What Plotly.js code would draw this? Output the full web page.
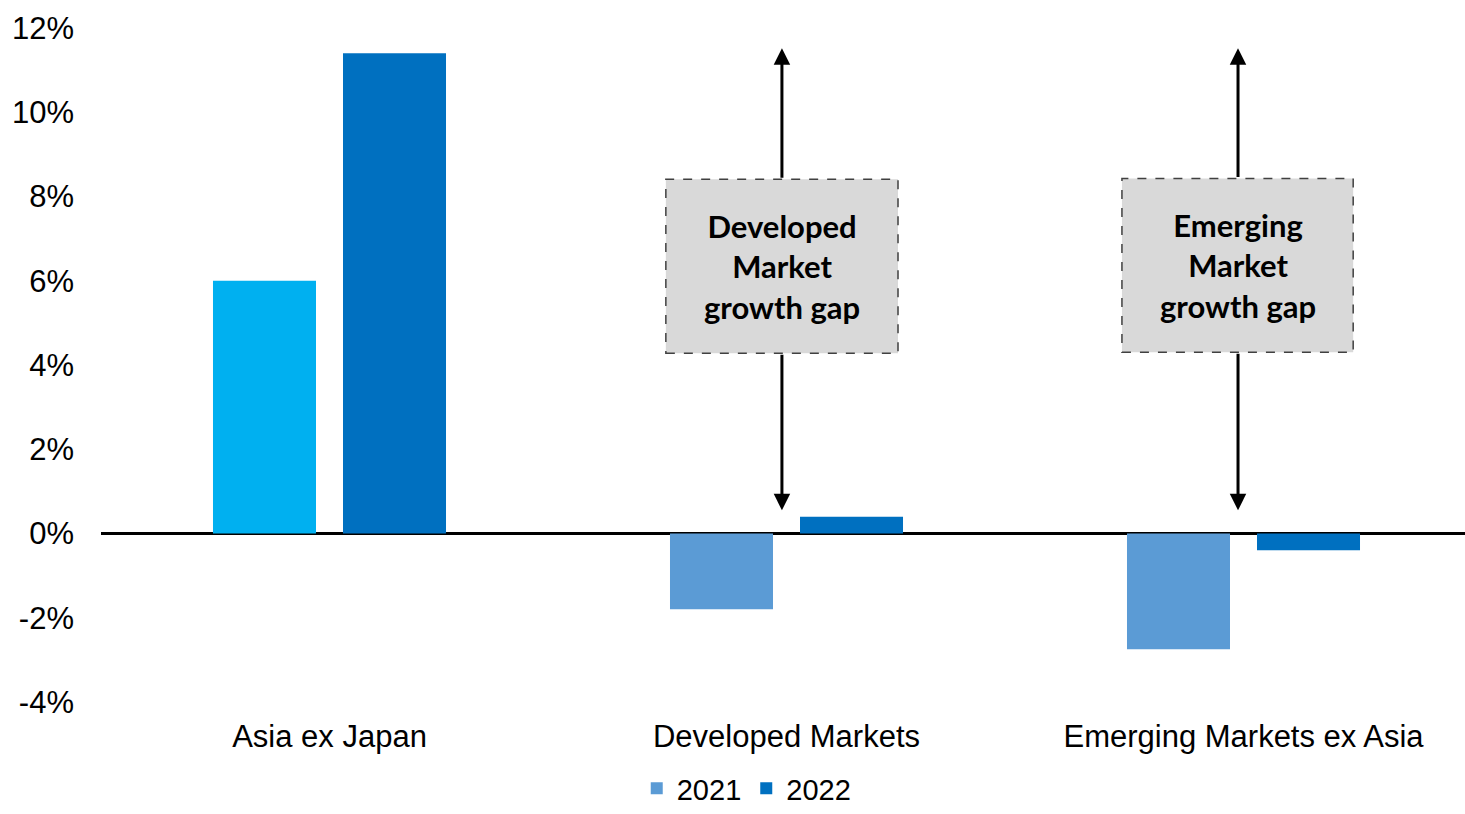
<!DOCTYPE html>
<html>
<head>
<meta charset="utf-8">
<script src="https://cdn.plot.ly/plotly-3.0.1.min.js"></script>
<style>html,body{margin:0;padding:0;overflow:hidden;background:#fff;}#chart{width:1472px;height:814px;}</style>
</head>
<body>
<div id="chart"></div>
<script>
const categories = ["Asia ex Japan", "Developed Markets", "Emerging Markets ex Asia"];
const values2021 = [6.0, -1.8, -2.75];
const values2022 = [11.4, 0.4, -0.4];
const colors2021 = ["#00B0F0", "#5B9BD5", "#5B9BD5"];
const color2021Legend = "#5B9BD5";
const color2022 = "#0070C0";
const yTicks = [-4, -2, 0, 2, 4, 6, 8, 10, 12];
const yTickLabels = yTicks.map(v => v + "%");
const gapLabels = ["Developed<br>Market<br>growth gap", "Emerging<br>Market<br>growth gap"];

const traces = [
  {type: "bar", name: "2021", x: categories, y: values2021, offsetgroup: "a",
   marker: {color: colors2021}, showlegend: false, hoverinfo: "y"},
  {type: "bar", name: "2022", x: categories, y: values2022, offsetgroup: "b",
   marker: {color: color2022}, showlegend: true, hoverinfo: "y"},
  {type: "bar", name: "2021", x: [categories[0]], y: [null], offsetgroup: "a",
   marker: {color: color2021Legend}, showlegend: true}
];

const shapes = [];
const annotations = [];
const gapX = [0.99, 1.988];
const boxes = [[0.736, 1.244, 4.28, 8.41], [1.734, 2.240, 4.30, 8.43]];
gapX.forEach((gx, i) => {
  const b = boxes[i];
  shapes.push({type: "rect", xref: "x", yref: "y", x0: b[0], x1: b[1], y0: b[2], y1: b[3],
    fillcolor: "#D9D9D9", line: {color: "#404040", width: 1.5, dash: "dash"}, layer: "above"});
  annotations.push({xref: "x", yref: "y", x: (b[0] + b[1]) / 2, y: (b[2] + b[3]) / 2,
    text: gapLabels[i], showarrow: false,
    font: {family: "Lato, 'Open Sans', sans-serif", size: 31, color: "#000", weight: "bold"}});
  annotations.push({xref: "x", yref: "y", axref: "x", ayref: "y", x: gx, y: 11.52, ax: gx, ay: b[3],
    text: "", showarrow: true, arrowhead: 2, arrowsize: 1.1, arrowwidth: 3, arrowcolor: "#000"});
  annotations.push({xref: "x", yref: "y", axref: "x", ayref: "y", x: gx, y: 0.55, ax: gx, ay: b[2],
    text: "", showarrow: true, arrowhead: 2, arrowsize: 1.1, arrowwidth: 3, arrowcolor: "#000"});
});

const layout = {
  width: 1472, height: 814,
  margin: {l: 101, r: 0, t: 28, b: 112},
  paper_bgcolor: "#fff", plot_bgcolor: "#fff",
  barmode: "group", bargap: 0.431, bargroupgap: 0.2077,
  font: {family: "'Liberation Sans', Arial, sans-serif", size: 31, color: "#000"},
  xaxis: {type: "category", range: [-0.5, 2.5], showgrid: false, showline: false, ticks: "",
    ticklabelstandoff: 13, tickfont: {size: 31, color: "#000"}, fixedrange: true},
  yaxis: {range: [-4, 12], tickvals: yTicks, ticktext: yTickLabels, showgrid: false, showline: false,
    zeroline: true, zerolinecolor: "#000", zerolinewidth: 3, ticks: "",
    ticklabelstandoff: 26, tickfont: {size: 31, color: "#000"}, fixedrange: true},
  legend: {orientation: "h", x: 0.471, xanchor: "center", yref: "container", y: 0, yanchor: "bottom",
    font: {size: 29, color: "#000"}, traceorder: "reversed", itemwidth: 30, tracegroupgap: 0},
  shapes: shapes, annotations: annotations,
  showlegend: true
};

Plotly.newPlot("chart", traces, layout, {displayModeBar: false, staticPlot: true});
</script>
</body>
</html>
